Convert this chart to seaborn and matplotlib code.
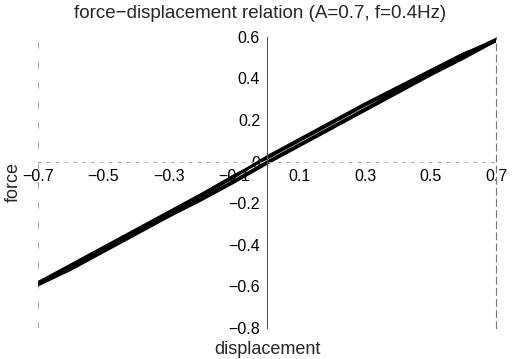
import numpy as np
import pandas as pd
import seaborn as sns
import matplotlib
matplotlib.use("Agg")
import matplotlib.pyplot as plt

# ---- data ----
displacement = [-0.7, -0.6, -0.5, -0.4, -0.3, -0.2, -0.1, 0.0, 0.1, 0.2, 0.3, 0.4, 0.5, 0.6, 0.7]
# cycle 1
force_loading_1 = [-0.59, -0.505, -0.42, -0.335, -0.25, -0.165, -0.075, 0.02, 0.105, 0.19, 0.275, 0.355, 0.435, 0.515, 0.59]
force_unloading_1 = [-0.59, -0.515, -0.43, -0.345, -0.26, -0.18, -0.095, -0.005, 0.08, 0.165, 0.25, 0.335, 0.42, 0.50, 0.585]
# cycle 2
force_loading_2 = [-0.585, -0.50, -0.415, -0.33, -0.245, -0.16, -0.07, 0.025, 0.11, 0.195, 0.28, 0.36, 0.44, 0.52, 0.585]
force_unloading_2 = [-0.595, -0.52, -0.435, -0.35, -0.265, -0.185, -0.10, -0.01, 0.075, 0.16, 0.245, 0.33, 0.415, 0.495, 0.58]
# cycle 3
force_loading_3 = [-0.58, -0.495, -0.41, -0.325, -0.24, -0.155, -0.065, 0.015, 0.10, 0.185, 0.27, 0.35, 0.43, 0.51, 0.58]
force_unloading_3 = [-0.58, -0.51, -0.425, -0.34, -0.255, -0.175, -0.09, 0.0, 0.085, 0.17, 0.255, 0.34, 0.425, 0.505, 0.58]

x_ticks = [-0.7, -0.5, -0.3, -0.1, 0.1, 0.3, 0.5, 0.7]
y_ticks = [-0.8, -0.6, -0.4, -0.2, 0.0, 0.2, 0.4, 0.6]
y_tick_labels = ["\u22120.8", "\u22120.6", "\u22120.4", "\u22120.2", "0", "0.2", "0.4", "0.6"]
x_tick_labels = ["\u22120.7", "\u22120.5", "\u22120.3", "\u22120.1", "0.1", "0.3", "0.5", "0.7"]

# build loop table
rows = []
cycles = [(force_loading_1, force_unloading_1),
          (force_loading_2, force_unloading_2),
          (force_loading_3, force_unloading_3)]
for c, (up, down) in enumerate(cycles):
    order = 0
    for d, f in zip(displacement, up):
        rows.append((c, order, d, f)); order += 1
    for d, f in zip(displacement[::-1], down[::-1]):
        rows.append((c, order, d, f)); order += 1
df = pd.DataFrame(rows, columns=["cycle", "order", "displacement", "force"])

sns.set_style("white")
plt.rcParams["font.family"] = ["Liberation Sans", "DejaVu Sans"]

fig = plt.figure(figsize=(5.14, 3.59), dpi=100)
ax = fig.add_axes([0.074, 0.0864, 0.891, 0.811])

sns.lineplot(data=df, x="displacement", y="force", units="cycle", estimator=None,
             sort=False, color="black", linewidth=1.6, ax=ax, legend=False)

ax.set_xlim(-0.7, 0.7)
ax.set_ylim(-0.8, 0.6)

# axes crossing at the origin
ax.spines["left"].set_position(("data", 0))
ax.spines["bottom"].set_position(("data", 0))
ax.spines["left"].set_color("#555555")
ax.spines["left"].set_linewidth(0.8)
ax.spines["bottom"].set_color("#aaaaaa")
ax.spines["bottom"].set_linewidth(0.8)
ax.spines["bottom"].set_linestyle((0, (2, 6)))
ax.spines["top"].set_visible(False)
ax.spines["right"].set_color("#777777")
ax.spines["right"].set_linewidth(0.8)
ax.spines["right"].set_linestyle((0, (6, 4)))
# plot-area border fragments
ax.axvline(-0.7, color="#aaaaaa", lw=0.8, ls=(0, (6, 12)), zorder=0)
ax.axhline(-0.8, color="#bbbbbb", lw=0.8, ls=(0, (2, 10)), zorder=0)

ax.set_xticks(x_ticks)
ax.set_xticklabels(x_tick_labels)
ax.set_yticks(y_ticks)
ax.set_yticklabels(y_tick_labels)
ax.tick_params(axis="both", direction="in", length=4, width=0.8, color="#777777",
               labelsize=11.5, labelcolor="black")
ax.tick_params(axis="x", pad=5)
ax.tick_params(axis="y", pad=5)

fig.text(0.506, 1 - 13 / 359, "force\u2212displacement relation (A=0.7, f=0.4Hz)",
         fontsize=13.5, ha="center", va="center")
ax.set_xlabel("displacement", fontsize=13)
ax.xaxis.set_label_coords(0.5, -0.045)
ax.set_ylabel("force", fontsize=13)
ax.yaxis.set_label_coords(-0.035, 0.5)

fig.savefig("out.png", dpi=100)
